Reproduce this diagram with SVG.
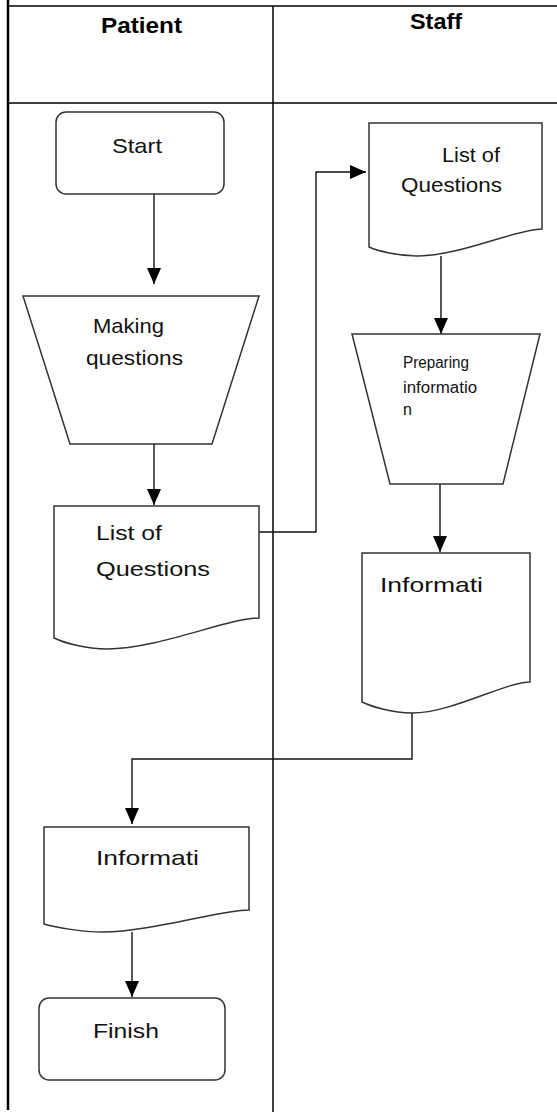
<svg xmlns="http://www.w3.org/2000/svg" width="557" height="1112" viewBox="0 0 557 1112">
<style>
.lane{fill:none;stroke:#000;stroke-width:1.5}
.shape{fill:#fff;stroke:#333;stroke-width:1.5}
.conn{fill:none;stroke:#111;stroke-width:1.4}
.t{font-family:"Liberation Sans","Open Sans",sans-serif;font-size:21px;fill:#111}
.h{font-family:"Liberation Sans","Open Sans",sans-serif;font-size:22px;font-weight:bold;fill:#000}
.s{font-family:"Liberation Sans","Open Sans",sans-serif;font-size:16px;fill:#111}
</style>
<defs>
<marker id="arr" markerUnits="userSpaceOnUse" markerWidth="16" markerHeight="14" refX="16" refY="7" orient="auto">
<path d="M0,0 L16,7 L0,14 Z" fill="#000"/>
</marker>
</defs>
<rect width="557" height="1112" fill="#fff"/>
<g id="lanes">
<line class="lane" x1="8" y1="0" x2="8" y2="1110" style="stroke-width:2.5"/>
<line class="lane" x1="8" y1="6" x2="557" y2="6"/>
<line class="lane" x1="8" y1="103" x2="557" y2="103"/>
<line class="lane" x1="273" y1="6" x2="273" y2="1112"/>
<text class="h" x="101" y="33" textLength="81" lengthAdjust="spacingAndGlyphs">Patient</text>
<text class="h" x="410" y="29" textLength="52" lengthAdjust="spacingAndGlyphs">Staff</text>
</g>
<g id="connectors">
<line class="conn" x1="154" y1="194" x2="154" y2="284" marker-end="url(#arr)"/>
<line class="conn" x1="154" y1="444" x2="154" y2="505" marker-end="url(#arr)"/>
<polyline class="conn" points="259,532 316,532 316,172 366,172" marker-end="url(#arr)"/>
<line class="conn" x1="441" y1="256" x2="441" y2="334" marker-end="url(#arr)"/>
<line class="conn" x1="440" y1="484" x2="440" y2="552" marker-end="url(#arr)"/>
<polyline class="conn" points="412,713 412,759 132,759 132,824" marker-end="url(#arr)"/>
<line class="conn" x1="132" y1="932" x2="132" y2="997" marker-end="url(#arr)"/>
</g>
<g id="start">
<rect class="shape" x="56" y="112" width="168" height="82" rx="10"/>
<text class="t" x="112" y="153" textLength="50" lengthAdjust="spacingAndGlyphs">Start</text>
</g>
<g id="making">
<polygon class="shape" points="23,296 259,296 212,444 70,444"/>
<text class="t" x="93" y="333" textLength="71" lengthAdjust="spacingAndGlyphs">Making</text>
<text class="t" x="86" y="365" textLength="97" lengthAdjust="spacingAndGlyphs">questions</text>
</g>
<g id="listP">
<path class="shape" d="M54,506 H259 V618 C228,618 158,649 107,649 C85,649 62,642 54,638 Z"/>
<text class="t" x="96" y="540" textLength="66" lengthAdjust="spacingAndGlyphs">List of</text>
<text class="t" x="96" y="576" textLength="114" lengthAdjust="spacingAndGlyphs">Questions</text>
</g>
<g id="listS">
<path class="shape" d="M369,123 H542 V229 C516,229 460,256 417,256 C398,256 378,251 369,247 Z"/>
<text class="t" x="442" y="162" textLength="58" lengthAdjust="spacingAndGlyphs">List of</text>
<text class="t" x="401" y="192" textLength="101" lengthAdjust="spacingAndGlyphs">Questions</text>
</g>
<g id="preparing">
<polygon class="shape" points="352,334 540,334 503,484 390,484"/>
<text class="s" x="403" y="368" textLength="66" lengthAdjust="spacingAndGlyphs">Preparing</text>
<text class="s" x="403" y="393" textLength="74" lengthAdjust="spacingAndGlyphs">informatio</text>
<text class="s" x="403" y="415">n</text>
</g>
<g id="infoS">
<path class="shape" d="M362,553 H530 V682 C505,682 452,713 412,713 C392,713 370,706 362,702 Z"/>
<text class="t" x="380" y="592" textLength="103" lengthAdjust="spacingAndGlyphs">Informati</text>
</g>
<g id="infoP">
<path class="shape" d="M44,827 H249 V910 C220,910 150,932 103,932 C80,932 55,927 44,924 Z"/>
<text class="t" x="96" y="865" textLength="103" lengthAdjust="spacingAndGlyphs">Informati</text>
</g>
<g id="finish">
<rect class="shape" x="39" y="998" width="186" height="82" rx="10"/>
<text class="t" x="93" y="1038" textLength="66" lengthAdjust="spacingAndGlyphs">Finish</text>
</g>
</svg>
